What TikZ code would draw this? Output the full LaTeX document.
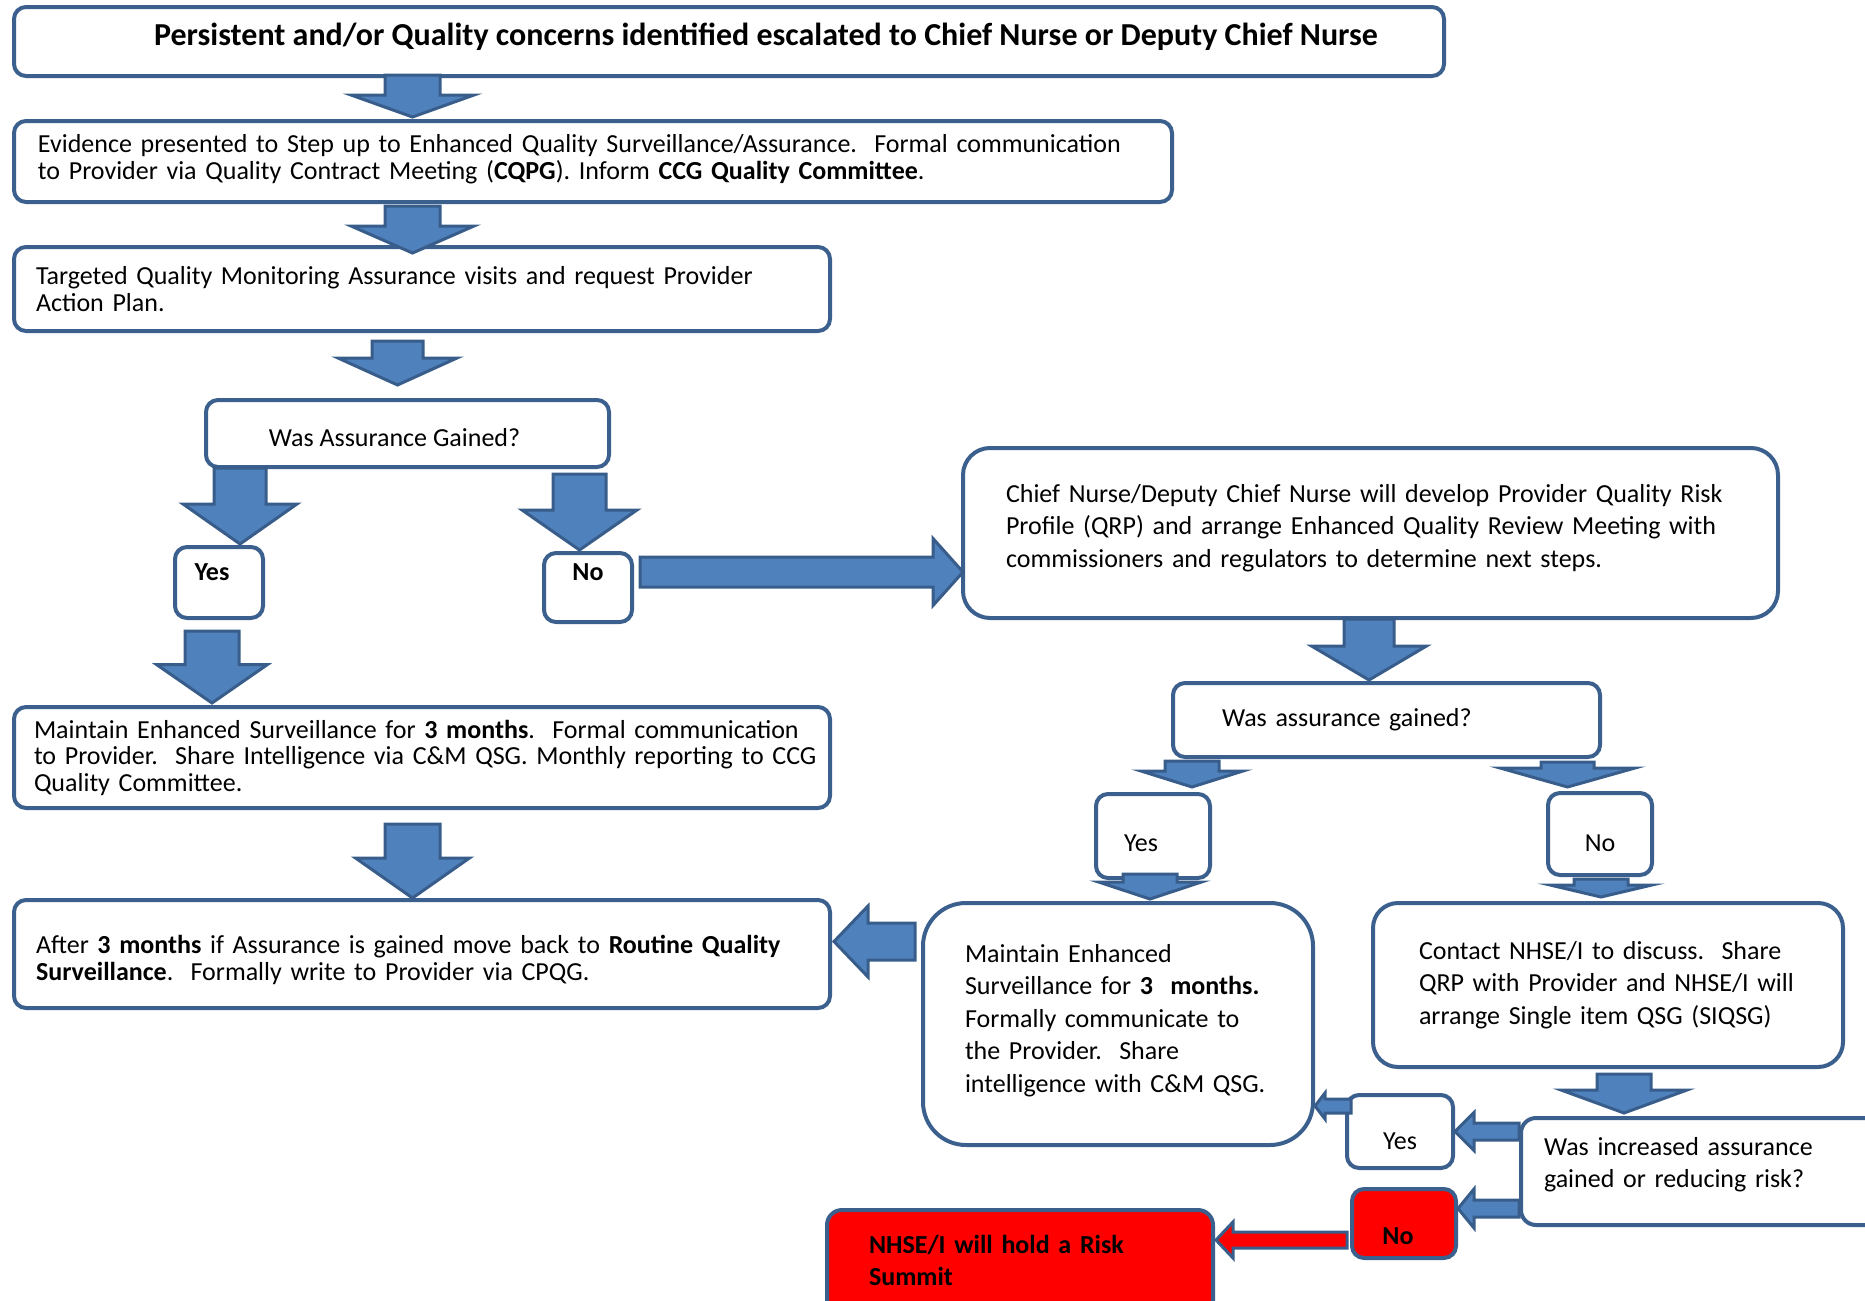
\documentclass[tikz,border=0pt]{standalone}
\usepackage{fontspec}
\setmainfont{Carlito}
\usetikzlibrary{calc}
\definecolor{arrowblue}{RGB}{79,129,189}
\definecolor{arrowline}{RGB}{56,93,138}
\definecolor{boxline}{RGB}{60,96,142}
\tikzset{
  box/.style={draw=boxline, line width=2pt, fill=white, rounded corners=6pt, align=left, inner ysep=0pt, font=\fontsize{13}{13.25}\selectfont},
  widebox/.style={box, font=\fontsize{13}{16.3}\selectfont},
  redbox/.style={box, fill=red, font=\bfseries\fontsize{13}{16}\selectfont},
  blockarrow/.style={draw=arrowline, fill=arrowblue, line width=1.5pt}
}
\newcommand{\blockdown}[9][]{%
  \coordinate (bt) at ($(#2,0 |- #3)+(0,#5)$);
  \coordinate (bh) at ($(#2,0 |- #4)+(0,#6)$);
  \draw[blockarrow,#1] ($(bt)+(-#7,0)$) -- ($(bt)+(#7,0)$) -- ($(bh)+(#7,-#9)$) -- ($(bh)+(#8,-#9)$) -- (bh) -- ($(bh)+(-#8,-#9)$) -- ($(bh)+(-#7,-#9)$) -- cycle;}
\newcommand{\blockside}[9][]{%
  \coordinate (bt) at ($(#3 |- 0,#2)+(#5,0)$);
  \coordinate (bh) at ($(#4 |- 0,#2)+(#6,0)$);
  \draw[blockarrow,#1] ($(bt)+(0,-#7)$) -- ($(bh)+(#9,-#7)$) -- ($(bh)+(#9,-#8)$) -- (bh) -- ($(bh)+(#9,#8)$) -- ($(bh)+(#9,#7)$) -- ($(bt)+(0,#7)$) -- cycle;}
\newcommand{\lowerby}[1]{\rule[-#1]{0pt}{0pt}}
\begin{document}
\begin{tikzpicture}[x=0.5pt,y=-0.5pt]
\useasboundingbox (0,0) rectangle (1865,1301);
\node[box, minimum width=715pt, minimum height=34.5pt, align=center, text depth=7pt, font=\bfseries\fontsize{16}{17}\selectfont] (concern) at (729,41.5) {\hspace*{37pt}Persistent and/or Quality concerns identified escalated to Chief Nurse or Deputy Chief Nurse};
\node[box, minimum height=40.5pt, inner xsep=12pt, text width=555pt] (evidence) at (593,161.5) {Evidence presented to Step up to Enhanced Quality Surveillance/Assurance.\ \ Formal communication\\ to Provider via Quality Contract Meeting (\textbf{CQPG}). Inform \textbf{CCG Quality Committee}.\lowerby{4.6pt}};
\node[box, minimum height=42pt, inner xsep=11pt, text width=386pt] (target) at (422,289) {Targeted Quality Monitoring Assurance visits and request Provider\\ Action Plan.};
\node[box, minimum width=201.5pt, minimum height=33.5pt, align=center, text height=13pt, text depth=0pt] (gained) at (407.5,433.5) {Was Assurance Gained?\hspace*{13pt}};
\node[box, minimum width=44pt, minimum height=35.5pt, font=\bfseries\fontsize{13}{13.25}\selectfont, text height=8.4pt, text depth=10pt] (yesA) at (219,582.5) {Yes\hspace*{7pt}};
\node[box, minimum width=44pt, minimum height=34.5pt, font=\bfseries\fontsize{13}{13.25}\selectfont, text height=8.4pt, text depth=15pt] (noA) at (588,587.5) {No};
\node[widebox, rounded corners=13.5pt, minimum height=85pt, inner xsep=21.5pt, text width=364.5pt] (chief) at (1370.5,533) {Chief Nurse/Deputy Chief Nurse will develop Provider Quality Risk\\ Profile (QRP) and arrange Enhanced Quality Review Meeting with\\ commissioners and regulators to determine next steps.\lowerby{7.3pt}};
\node[box, minimum height=50.5pt, inner xsep=10pt, text width=388pt] (maintainA) at (422,757.5) {\mbox{Maintain Enhanced Surveillance for \textbf{3 months}.\ \ Formal communication}\\ \mbox{to Provider.\ \ Share Intelligence via C\&M QSG. Monthly reporting to CCG}\\ Quality Committee.};
\node[box, minimum height=54pt, inner xsep=11pt, text width=386pt] (after) at (422,954) {\rule{0pt}{15pt}After \textbf{3 months} if Assurance is gained move back to \textbf{Routine Quality}\\ \textbf{Surveillance}.\ \ Formally write to Provider via CPQG.};
\node[box, minimum height=37pt, inner xsep=24.5pt, text width=164.5pt] (gainedB) at (1386.5,720) {Was assurance gained?};
\node[box, minimum width=57pt, minimum height=42pt, text height=15.4pt, text depth=0pt] (yesB) at (1153,836) {Yes\hspace*{12pt}};
\node[box, minimum width=52pt, minimum height=41pt, text height=17.4pt, text depth=0pt] (noB) at (1600,834) {No};
\node[widebox, rounded corners=21.5pt, minimum height=121pt, inner xsep=21pt, text width=153pt] (maintainB) at (1118,1024) {Maintain Enhanced\\ Surveillance for \textbf{3\ \ months.}\\ Formally communicate to\\ the Provider.\ \ Share\\ intelligence with C\&M QSG.\lowerby{5.7pt}};
\node[widebox, rounded corners=12.5pt, minimum height=82pt, inner xsep=23pt, text width=189pt] (contact) at (1608,985) {Contact NHSE/I to discuss.\ \ Share\\ QRP with Provider and NHSE/I will\\ arrange Single item QSG (SIQSG)};
\node[box, rounded corners=7.5pt, font=\fontsize{13}{16}\selectfont, minimum height=53.5pt, inner xsep=11.5pt, text width=156.5pt] (increased) at (1700.5,1171.5) {Was increased assurance\\ gained or reducing risk?\lowerby{9.3pt}};
\node[box, minimum width=53pt, minimum height=36.5pt, text height=18.4pt, text depth=0pt] (yesC) at (1400,1131.5) {Yes};
\node[redbox, minimum width=52pt, minimum height=34.5pt, text height=21.4pt, text depth=0pt] (noC) at (1404,1223.5) {No\hspace*{6pt}};
\node[redbox, rounded corners=7.5pt, minimum height=54pt, inner xsep=21pt, text width=151pt] (summit) at (1020,1264) {NHSE/I will hold a Risk\\ Summit\lowerby{3.6pt}};
\blockdown{412.5}{concern.south}{evidence.north}{-3}{-2}{27.5}{61.5}{22}
\blockdown{412.5}{evidence.south}{target.north}{2}{8}{27.5}{61.5}{27}
\blockdown{397.5}{target.south}{gained.north}{8}{-13}{25.5}{59.5}{27}
\blockdown{240}{gained.south}{yesA.north}{-1}{-1}{26}{57}{40}
\blockdown{579.5}{gained.south}{noA.north}{5}{-1}{26.5}{57.5}{40}
\blockside{572}{noA.east}{chief.west}{6}{2}{15}{33.5}{-30}
\blockdown{212}{yesA.south}{maintainA.north}{11}{-2}{27}{55.5}{38.5}
\blockdown{412.5}{maintainA.south}{after.north}{14}{0}{27.5}{57}{40}
\blockdown{1369}{chief.south}{gainedB.north}{-1}{-1}{25}{57.5}{34}
\blockdown{1192}{gainedB.south}{yesB.north}{2}{-5}{27}{51}{16}
\blockdown{1567.5}{gainedB.south}{noB.north}{3}{-4}{26.5}{67.5}{19}
\blockdown{1150}{yesB.south}{maintainB.north}{-6}{-2}{27}{51.5}{17}
\blockdown{1601}{noB.south}{contact.north}{2}{-4}{27}{51}{12}
\blockdown{1624}{contact.south}{increased.north}{5}{-3}{27}{63}{23}
\blockside{941.5}{maintainB.west}{after.east}{-6}{2}{18.5}{35.5}{34}
\blockside{1131.5}{increased.west}{yesC.east}{0}{0}{8.5}{19}{19}
\blockside{1106}{yesC.west}{maintainB.east}{6}{0}{7}{13}{10}
\blockside{1208.5}{increased.west}{noC.east}{0}{0}{8.5}{19.5}{16}
\blockside[fill=red]{1240}{noC.west}{summit.east}{-3}{1}{8}{18}{17}
\end{tikzpicture}
\end{document}
